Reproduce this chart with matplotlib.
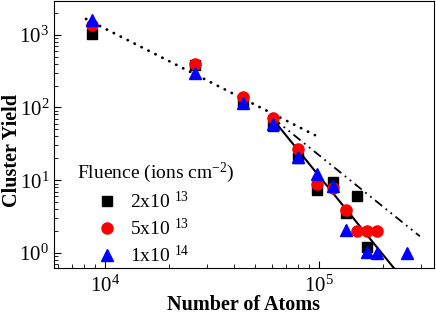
import matplotlib
matplotlib.use('Agg')
import matplotlib.pyplot as plt
from matplotlib.ticker import LogLocator, NullFormatter

plt.rcParams['font.family'] = ['Liberation Serif', 'DejaVu Serif']
plt.rcParams['mathtext.fontset'] = 'custom'
plt.rcParams['mathtext.rm'] = 'Liberation Serif'
plt.rcParams['mathtext.it'] = 'Liberation Serif:italic'
plt.rcParams['mathtext.bf'] = 'Liberation Serif:bold'

# Cluster yields per fluence
atoms_2e13 = [8670, 26300, 44200, 61100, 79400, 97500, 116000, 134000, 151000, 168000]
yield_2e13 = [1020, 380, 118, 55, 20, 7.3, 9.5, 3.55, 6.0, 1.21]

atoms_5e13 = [8670, 26300, 44200, 61100, 79400, 97500, 116000, 134000, 151000, 168000, 187000]
yield_5e13 = [1350, 394, 138, 72, 26.7, 9.0, 7.9, 3.95, 2.0, 2.0, 2.0]

atoms_1e14 = [8670, 26300, 44200, 61100, 79400, 97500, 116000, 134000, 168000, 187000, 259000]
yield_1e14 = [1580, 296, 114, 60, 21, 12, 8.3, 2.05, 1.03, 1.0, 1.0]

# power-law guide lines (end points)
dotted_x, dotted_y = [8150, 95700], [1640, 41.6]
dashdot_x, dashdot_y = [61000, 296000], [71, 1.7]
solid_x, solid_y = [61100, 225000], [68, 0.61]

legend_labels = ['2x10 $^{13}$', '5x10 $^{13}$', '1x10 $^{14}$']

fig = plt.figure(figsize=(4.36, 3.14), dpi=100)
ax = fig.add_axes([0.124, 0.146, 0.871, 0.851])

ax.plot(dotted_x, dotted_y, color='black', lw=2.0, linestyle=(0, (0.1, 2.7)),
        dash_capstyle='round')
ax.plot(dashdot_x, dashdot_y, color='black', lw=1.3,
        linestyle=(0, (5, 2.5, 1, 2.5, 1, 2.5)))
ax.plot(solid_x, solid_y, color='black', lw=1.5)

ax.plot(atoms_2e13, yield_2e13, 's', color='black', ms=7, label=legend_labels[0])
ax.plot(atoms_5e13, yield_5e13, 'o', color='red', ms=8, label=legend_labels[1])
ax.plot(atoms_1e14, yield_1e14, '^', color='blue', ms=8, label=legend_labels[2])

ax.set_xscale('log')
ax.set_yscale('log')
ax.set_xlim(5780, 344000)
ax.set_ylim(0.62, 2900)

ax.xaxis.set_minor_locator(LogLocator(base=10, subs=range(2, 10)))
ax.yaxis.set_minor_locator(LogLocator(base=10, subs=range(2, 10)))
ax.xaxis.set_minor_formatter(NullFormatter())
ax.yaxis.set_minor_formatter(NullFormatter())
ax.tick_params(which='both', direction='in', top=False, right=False)
ax.tick_params(which='major', length=5, labelsize=15)
ax.tick_params(which='minor', length=3)
ax.tick_params(axis='x', which='major', pad=5)

ax.set_xlabel('Number of Atoms', fontsize=14.5, fontweight='bold', labelpad=-1)
ax.set_ylabel('Cluster Yield', fontsize=14.5, fontweight='bold')
ax.yaxis.set_label_coords(-0.085, 0.44)

leg = ax.legend(title='Fluence (ions cm$^{-2}$)', loc='lower left',
                bbox_to_anchor=(0.02, -0.05), frameon=False, fontsize=14,
                title_fontsize=14, handlelength=3.1, handletextpad=-0.4,
                labelspacing=0.3, borderpad=0.3, numpoints=1)
leg._legend_box.align = 'left'

fig.savefig('out.png', dpi=100)
